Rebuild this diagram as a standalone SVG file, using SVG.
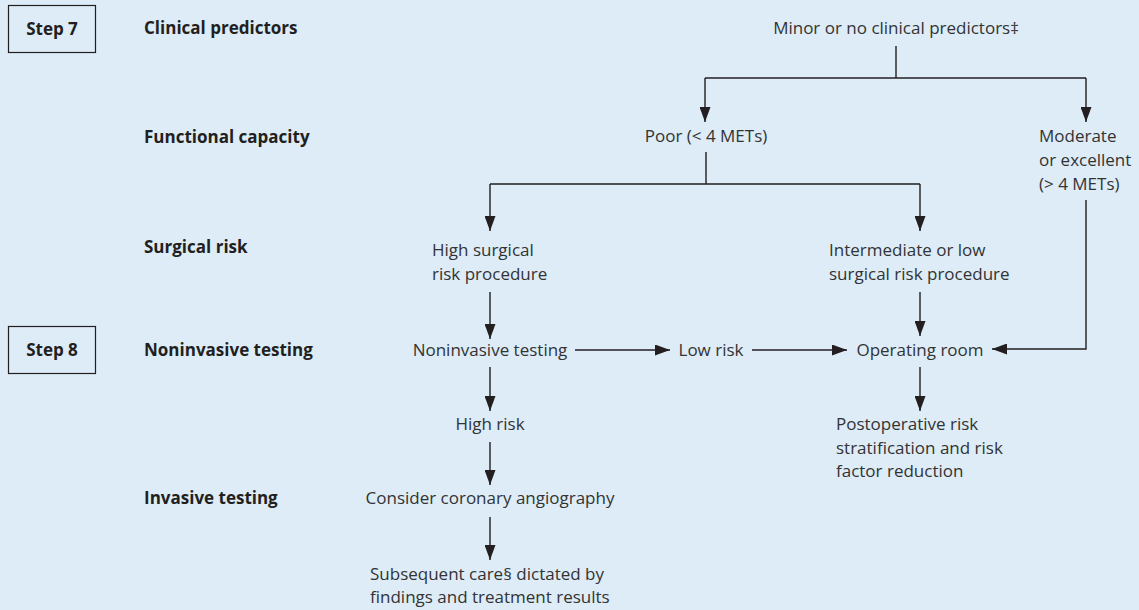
<svg xmlns="http://www.w3.org/2000/svg" width="1139" height="610" viewBox="0 0 1139 610">
<defs>
<marker id="ah" viewBox="0 0 15 11" refX="15" refY="5.5" markerWidth="15" markerHeight="11" markerUnits="userSpaceOnUse" orient="auto">
<path d="M0,0 L15,5.5 L0,11 Z" fill="#231f20"/>
</marker>
</defs>
<style>
.t{font-family:"Open Sans","Liberation Sans",sans-serif;font-size:17px;fill:#333333}
.b{font-family:"Open Sans","Liberation Sans",sans-serif;font-size:17px;font-weight:bold;fill:#231f20}
.c{text-anchor:middle}
.ln{fill:none;stroke:#231f20;stroke-width:1.4}
.ar{fill:none;stroke:#231f20;stroke-width:1.4;marker-end:url(#ah)}
.box{fill:none;stroke:#231f20;stroke-width:1.2}
</style>
<rect width="1139" height="610" fill="#ddecf7"/>
<g id="step7"><rect class="box" x="8.5" y="5.5" width="87" height="47"/><text class="b c" x="52" y="35">Step 7</text></g>
<g id="step8"><rect class="box" x="8.5" y="326.5" width="87" height="47"/><text class="b c" x="52" y="356">Step 8</text></g>
<g id="lbl-clinical"><text class="b" x="144" y="34">Clinical predictors</text></g>
<g id="lbl-functional"><text class="b" x="144" y="143">Functional capacity</text></g>
<g id="lbl-surgical"><text class="b" x="144" y="253">Surgical risk</text></g>
<g id="lbl-noninvasive"><text class="b" x="144" y="356">Noninvasive testing</text></g>
<g id="lbl-invasive"><text class="b" x="144" y="504">Invasive testing</text></g>
<g id="n-minor"><text class="t c" x="896" y="34">Minor or no clinical predictors‡</text></g>
<g id="n-poor"><text class="t c" x="706" y="142">Poor (&lt; 4 METs)</text></g>
<g id="n-moderate"><text class="t" x="1039" y="142">Moderate</text><text class="t" x="1039" y="166">or excellent</text><text class="t" x="1039" y="190">(&gt; 4 METs)</text></g>
<g id="n-high-surgical"><text class="t" x="432" y="256">High surgical</text><text class="t" x="432" y="280">risk procedure</text></g>
<g id="n-intermediate"><text class="t" x="829" y="256">Intermediate or low</text><text class="t" x="829" y="280">surgical risk procedure</text></g>
<g id="n-nit"><text class="t c" x="490" y="356">Noninvasive testing</text></g>
<g id="n-low"><text class="t c" x="711" y="356">Low risk</text></g>
<g id="n-or"><text class="t c" x="920" y="356">Operating room</text></g>
<g id="n-post"><text class="t" x="836" y="430">Postoperative risk</text><text class="t" x="836" y="454">stratification and risk</text><text class="t" x="836" y="477">factor reduction</text></g>
<g id="n-highrisk"><text class="t c" x="490" y="430">High risk</text></g>
<g id="n-cca"><text class="t c" x="490" y="504">Consider coronary angiography</text></g>
<g id="n-subsequent"><text class="t" x="370" y="580">Subsequent care§ dictated by</text><text class="t" x="370" y="603">findings and treatment results</text></g>
<g id="connectors">
<path class="ln" d="M896,46 V78 M705,78 H1086"/>
<path class="ar" d="M705,78 V122"/>
<path class="ar" d="M1086,78 V122"/>
<path class="ln" d="M706,152 V184 M490,184 H920"/>
<path class="ar" d="M490,184 V231"/>
<path class="ar" d="M920,184 V231"/>
<path class="ar" d="M490,292 V339"/>
<path class="ar" d="M920,292 V336"/>
<path class="ar" d="M575,350 H670"/>
<path class="ar" d="M752,350 H847"/>
<path class="ar" d="M1086,200 V349 H992"/>
<path class="ar" d="M920,367 V411"/>
<path class="ar" d="M490,367 V411"/>
<path class="ar" d="M490,442 V485"/>
<path class="ar" d="M490,517 V560"/>
</g>
</svg>
